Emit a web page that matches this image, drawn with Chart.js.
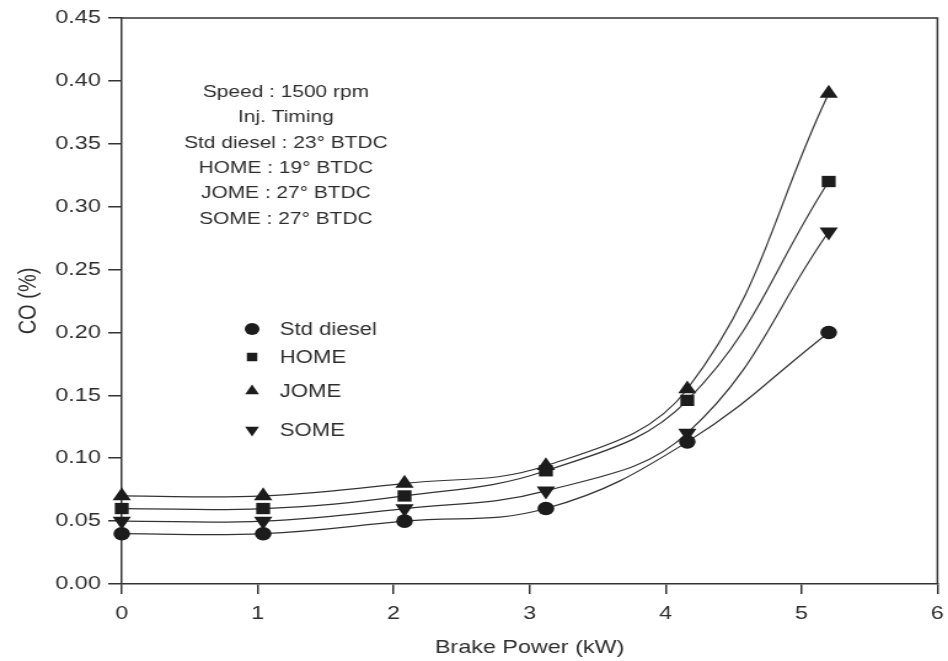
<!DOCTYPE html>
<html>
<head>
<meta charset="utf-8">
<script src="https://cdn.jsdelivr.net/npm/chart.js@4.4.1/dist/chart.umd.min.js"></script>
<style>
  html, body { margin: 0; padding: 0; background: #fff; overflow: hidden; }
  /* the source figure is stretched sideways, so draw narrow and widen it */
  #wrap { width: 771px; height: 661px; transform: scaleX(1.2296); transform-origin: 0 0; }
</style>
</head>
<body>
<div id="wrap"><canvas id="coChart" width="771" height="661"></canvas></div>
<script>
// brake power (kW)
const brakePower = [0, 1.04, 2.08, 3.12, 4.16, 5.2];

// CO (%) per fuel
const stdDiesel = [0.04, 0.04, 0.05, 0.06, 0.113, 0.20];
const home      = [0.06, 0.06, 0.07, 0.09, 0.146, 0.32];
const jome      = [0.07, 0.07, 0.08, 0.094, 0.155, 0.39];
const some      = [0.05, 0.05, 0.06, 0.074, 0.12, 0.28];

const seriesNames = ['Std diesel', 'HOME', 'JOME', 'SOME'];

const infoLines = [
  'Speed : 1500 rpm',
  'Inj. Timing',
  'Std diesel : 23\u00B0 BTDC',
  'HOME : 19\u00B0 BTDC',
  'JOME : 27\u00B0 BTDC',
  'SOME : 27\u00B0 BTDC',
];

const INK = '#1c1c1c';
const TXT = '#2e2e2e';
const FONT = 'Arial, "Liberation Sans", sans-serif';

const toPoints = ys => ys.map((y, i) => ({ x: brakePower[i], y }));

const markers = [
  { style: 'circle',   rotation: 0,   radius: 6.8, legend: 6 },
  { style: 'rect',     rotation: 0,   radius: 8,   legend: 6 },
  { style: 'triangle', rotation: 0,   radius: 8.6, legend: 6.5 },
  { style: 'triangle', rotation: 180, radius: 8.6, legend: 6.5 },
];

const datasets = [stdDiesel, home, jome, some].map((ys, i) => ({
  label: seriesNames[i],
  data: toPoints(ys),
  borderColor: '#333',
  borderWidth: 1.2,
  backgroundColor: INK,
  pointBackgroundColor: INK,
  pointBorderColor: INK,
  pointBorderWidth: 0,
  pointStyle: markers[i].style,
  pointRotation: markers[i].rotation,
  pointRadius: markers[i].radius,
  tension: 0.4,
  clip: false,
  fill: false,
}));

// frame around the plot + notes + legend
const decorations = {
  id: 'decorations',
  afterDraw(chart) {
    const { ctx, chartArea: a } = chart;
    ctx.save();
    ctx.strokeStyle = '#333';
    ctx.lineWidth = 1.5;
    ctx.beginPath();
    ctx.moveTo(a.left, a.top);
    ctx.lineTo(a.right, a.top);
    ctx.lineTo(a.right, a.bottom);
    ctx.stroke();

    // info block
    ctx.fillStyle = TXT;
    ctx.font = '17px ' + FONT;
    ctx.textAlign = 'center';
    ctx.textBaseline = 'middle';
    infoLines.forEach((t, i) => ctx.fillText(t, 232.5, 92.5 + i * 25.3));

    // legend
    const rows = [329, 357, 391, 430];
    ctx.font = '18px ' + FONT;
    ctx.textAlign = 'left';
    chart.data.datasets.forEach((ds, i) => {
      ctx.fillStyle = INK;
      ctx.strokeStyle = INK;
      Chart.helpers.drawPoint(ctx, {
        pointStyle: markers[i].style,
        rotation: markers[i].rotation,
        radius: markers[i].legend,
        borderWidth: 0,
      }, 205, rows[i]);
      ctx.fillStyle = TXT;
      ctx.fillText(ds.label, 227.5, rows[i] + 1);
    });
    ctx.restore();
  },
};

new Chart(document.getElementById('coChart'), {
  type: 'line',
  data: { datasets },
  options: {
    responsive: false,
    animation: false,
    layout: { padding: { top: 18, right: 6.5, left: 0, bottom: 0 } },
    plugins: { legend: { display: false }, tooltip: { enabled: false } },
    scales: {
      x: {
        type: 'linear',
        min: 0,
        max: 6,
        ticks: { stepSize: 1, color: TXT, font: { family: FONT, size: 19 }, padding: 8 },
        grid: { drawOnChartArea: false, drawTicks: true, tickLength: 10, color: '#333', lineWidth: 1.5 },
        border: { color: '#333', width: 1.5 },
        title: { display: true, text: 'Brake Power (kW)', color: TXT, font: { family: FONT, size: 19 }, padding: { top: 4, bottom: 2 } },
        afterFit(scale) {
          scale.height = 77;
          scale.paddingLeft = 0;
          scale.paddingRight = 0;
        },
      },
      y: {
        min: 0,
        max: 0.45,
        ticks: {
          stepSize: 0.05,
          color: TXT,
          font: { family: FONT, size: 19 },
          padding: 6,
          callback: v => v.toFixed(2),
        },
        grid: { drawOnChartArea: false, drawTicks: true, tickLength: 11, color: '#333', lineWidth: 1.5 },
        border: { color: '#333', width: 1.5 },
        title: { display: true, text: 'CO (%)', color: TXT, font: { family: FONT, size: 20 }, padding: { top: 11, bottom: 4 } },
        afterFit(scale) {
          scale.width = 99;
          scale.paddingTop = 0;
          scale.paddingBottom = 0;
        },
      },
    },
  },
  plugins: [decorations],
});
</script>
</body>
</html>
